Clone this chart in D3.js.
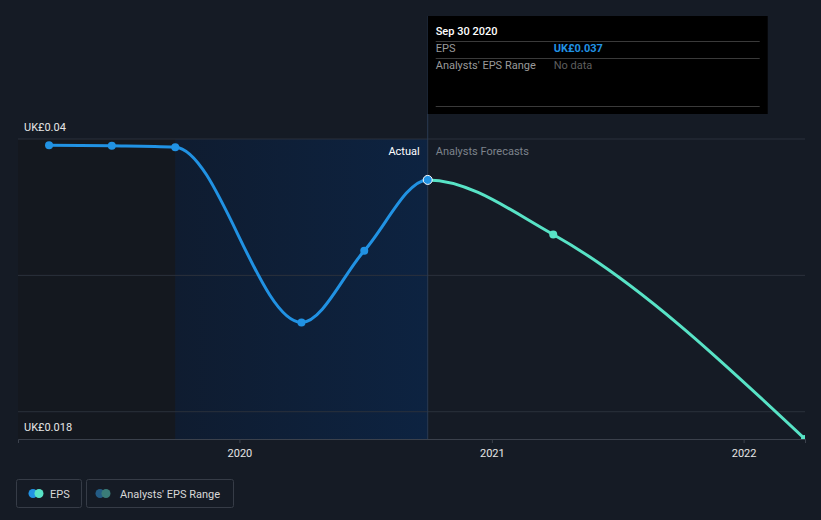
<!DOCTYPE html>
<html><head><meta charset="utf-8">
<script src="https://cdn.jsdelivr.net/npm/d3@7"></script>
<style>
html,body{margin:0;padding:0;background:#151b25;}
svg{display:block;font-family:Roboto,"Open Sans",sans-serif;}
</style></head>
<body>
<svg id="c" width="821" height="520"></svg>
<script>
const actualDates = ["2019-03-31","2019-06-30","2019-09-30","2020-03-31","2020-06-30","2020-09-30"];
const actualEPS = [0.03955, 0.0395, 0.0394, 0.02655, 0.0318, 0.037];
const forecastDates = ["2020-09-30","2021-03-31","2022-03-31"];
const forecastEPS = [0.037, 0.0330, 0.018];
const yTickValues = [0.04, 0.03, 0.02];
const yLabelValues = [0.04, 0.018];
const xTickLabels = ["2020","2021","2022"];

const parse = d3.utcParse("%Y-%m-%d");
const svg = d3.select("#c");
const L = 18, R = 805, T = 139, B = 439;
const x = d3.scaleUtc().domain([parse("2019-02-14"), parse("2022-03-31")]).range([L, R]);
const y = d3.scaleLinear().domain([0.018, 0.04]).range([B, T]);

const xNow = x(parse(actualDates[actualDates.length-1]));
const xPast = x(parse(actualDates[2]));

const defs = svg.append("defs");
const g = defs.append("linearGradient").attr("id","ag").attr("x1","0").attr("x2","1");
g.append("stop").attr("offset","0").attr("stop-color","#0f1c30");
g.append("stop").attr("offset","1").attr("stop-color","#0d2341");
defs.append("clipPath").attr("id","clipA").append("rect").attr("x",L).attr("y",0).attr("width",xNow-L).attr("height",B);
defs.append("clipPath").attr("id","clipF").append("rect").attr("x",xNow).attr("y",0).attr("width",R-xNow).attr("height",B);
defs.append("clipPath").attr("id","clip").append("rect").attr("x",L).attr("y",0).attr("width",R-L).attr("height",B);

// past region
svg.append("rect").attr("x",L).attr("y",T).attr("width",xPast-L).attr("height",B-T).attr("fill","#14181f");
svg.append("rect").attr("x",xPast).attr("y",T).attr("width",xNow-xPast).attr("height",B-T).attr("fill","url(#ag)");

// gridlines
svg.append("g").selectAll("line").data(yTickValues).join("line")
  .attr("x1",L).attr("x2",R).attr("y1",d=>y(d)).attr("y2",d=>y(d))
  .attr("stroke","#2b313c").attr("stroke-width",1);

// x axis
const xAxis = d3.axisBottom(x)
  .tickValues(xTickLabels.map(t=>parse(t+"-01-01")))
  .tickFormat(d3.utcFormat("%Y")).tickSize(4).tickPadding(6);
const ax = svg.append("g").attr("transform",`translate(0,${B})`).call(xAxis);
ax.select(".domain").attr("stroke","#3b414c");
ax.selectAll(".tick line").attr("stroke","#3b414c");
ax.selectAll(".tick text").attr("fill","#e6e6e6").attr("font-size",11).attr("font-family","Roboto,sans-serif");

// y labels
svg.append("g").selectAll("text").data(yLabelValues).join("text")
  .attr("x",24).attr("y",d=>y(d)-8).attr("fill","#e6e6e6").attr("font-size",11)
  .text(d=>"UK£"+d);

// now line
svg.append("line").attr("x1",xNow).attr("x2",xNow).attr("y1",16).attr("y2",B)
  .attr("stroke","#2a3a52").attr("stroke-width",1);

svg.append("text").attr("x",xNow-8).attr("y",155).attr("text-anchor","end")
  .attr("fill","#ffffff").attr("font-size",11).text("Actual");
svg.append("text").attr("x",xNow+8).attr("y",155)
  .attr("fill","#7d838c").attr("font-size",11).text("Analysts Forecasts");

const line = d3.line().x(d=>x(d[0])).y(d=>y(d[1])).curve(d3.curveMonotoneX);
const aData = actualDates.map((d,i)=>[parse(d),actualEPS[i]]);
const fData = forecastDates.map((d,i)=>[parse(d),forecastEPS[i]]);
const allData = aData.concat(fData.slice(1));
svg.append("path").attr("d",line(allData)).attr("clip-path","url(#clipF)").attr("fill","none").attr("stroke","#58e3c6").attr("stroke-width",3);
svg.append("path").attr("d",line(allData)).attr("clip-path","url(#clipA)").attr("fill","none").attr("stroke","#2192e3").attr("stroke-width",3);
const cg = svg.append("g").attr("clip-path","url(#clip)");
cg.selectAll(".ad").data(aData.slice(0,-1)).join("circle").attr("class","ad")
  .attr("cx",d=>x(d[0])).attr("cy",d=>y(d[1])).attr("r",4).attr("fill","#2192e3");
cg.selectAll(".fd").data(fData.slice(1)).join("circle").attr("class","fd")
  .attr("cx",d=>x(d[0])).attr("cy",d=>y(d[1])).attr("r",4).attr("fill","#58e3c6");
const last = aData[aData.length-1];
cg.append("circle").attr("cx",x(last[0])).attr("cy",y(last[1])).attr("r",4.5)
  .attr("fill","#2192e3").attr("stroke","#ffffff").attr("stroke-width",1);

// tooltip
const tt = svg.append("g").attr("transform",`translate(${xNow},16)`);
tt.append("rect").attr("width",340).attr("height",98).attr("fill","#000000");
tt.append("text").attr("x",8).attr("y",19).attr("fill","#ffffff").attr("font-size",11).attr("font-weight",500).text("Sep 30 2020");
[25,42,90].forEach(yy=>tt.append("line").attr("x1",8).attr("x2",332).attr("y1",yy+0.5).attr("y2",yy+0.5).attr("stroke","#3a3a3a"));
tt.append("text").attr("x",8).attr("y",36).attr("fill","#9a9a9a").attr("font-size",11).text("EPS");
tt.append("text").attr("x",126).attr("y",36).attr("fill","#2192e3").attr("font-size",11).attr("font-weight",700).text("UK£"+actualEPS[actualEPS.length-1]);
tt.append("text").attr("x",8).attr("y",53).attr("fill","#9a9a9a").attr("font-size",11).text("Analysts' EPS Range");
tt.append("text").attr("x",126).attr("y",53).attr("fill","#5e5e5e").attr("font-size",11).text("No data");

// legend
const lg = svg.append("g");
const l1 = lg.append("g").attr("transform","translate(16,479)");
l1.append("rect").attr("x",0.5).attr("y",0.5).attr("width",65).attr("height",28).attr("rx",2).attr("fill","none").attr("stroke","#363c47");
l1.append("circle").attr("cx",17).attr("cy",14.5).attr("r",4.5).attr("fill","#2192e3");
l1.append("circle").attr("cx",23).attr("cy",14.5).attr("r",4.5).attr("fill","#58e3c6");
l1.append("text").attr("x",34).attr("y",18.5).attr("fill","#d8d8d8").attr("font-size",11).text("EPS");
const l2 = lg.append("g").attr("transform","translate(86,479)");
l2.append("rect").attr("x",0.5).attr("y",0.5).attr("width",147).attr("height",28).attr("rx",2).attr("fill","none").attr("stroke","#363c47");
l2.append("circle").attr("cx",14).attr("cy",14.5).attr("r",4.5).attr("fill","#245c85");
l2.append("circle").attr("cx",20).attr("cy",14.5).attr("r",4.5).attr("fill","#3a7c78");
l2.append("text").attr("x",34).attr("y",18.5).attr("fill","#d8d8d8").attr("font-size",11).text("Analysts' EPS Range");
</script>
</body></html>
